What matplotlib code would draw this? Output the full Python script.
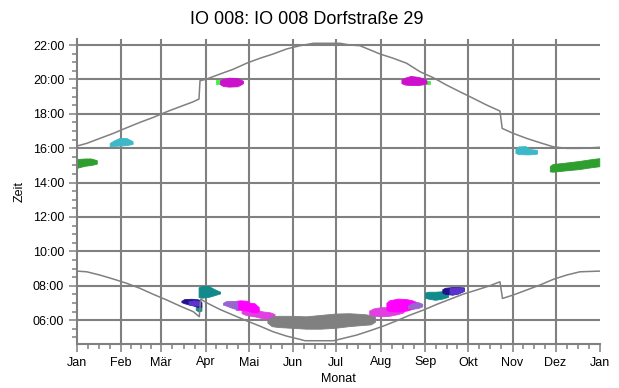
import matplotlib
matplotlib.use("Agg")
import matplotlib.pyplot as plt
from matplotlib.ticker import FixedLocator, MultipleLocator, FuncFormatter

plt.rcParams['font.family'] = ['Liberation Sans', 'DejaVu Sans']

# Calendar axis: day of year at each month start
month_days = [0, 31, 59, 90, 120, 151, 181, 212, 243, 273, 304, 334, 365]
month_labels = ["Jan", "Feb", "Mär", "Apr", "Mai", "Jun", "Jul", "Aug",
                "Sep", "Okt", "Nov", "Dez", "Jan"]
hour_ticks = [6, 8, 10, 12, 14, 16, 18, 20, 22]

# Sunrise / sunset (local clock time in hours, with daylight saving jumps)
sunrise_day = [0, 7, 16.2, 25.5, 34.9, 44.1, 53.4, 62.8, 72, 81.3, 85.5, 86.5,
               90.6, 99.9, 109.2, 118.5, 127.8, 137.1, 146.4, 155.7, 159.2,
               169.7, 179, 186, 195.3, 204.5, 213.8, 223.1, 232.4, 241.7, 251,
               260.3, 269.6, 278.9, 288.2, 295.2, 297, 304.5, 313.8, 323.1,
               332.4, 341.7, 351, 365]
sunrise_time = [8.85, 8.81, 8.62, 8.39, 8.14, 7.85, 7.5, 7.17, 6.82, 6.49, 6.2, 7.22,
                7.01, 6.62, 6.29, 5.96, 5.65, 5.32, 5.07, 4.88, 4.8,
                4.8, 4.8, 4.94, 5.13, 5.38, 5.65, 5.96, 6.29, 6.58, 6.91,
                7.21, 7.51, 7.75, 8.0, 8.23, 7.26, 7.46, 7.75, 8.04,
                8.37, 8.62, 8.81, 8.85]

sunset_day = [0, 7, 16.2, 25.5, 34.9, 44.1, 53.4, 62.8, 72, 81.3, 85.3, 86,
              90.6, 99.9, 109.2, 118.5, 127.8, 137.1, 146.4, 155.7, 165, 183.6,
              190.6, 197.6, 202.2, 211.5, 220.8, 230.1, 239.4, 248.7, 258,
              267.3, 276.6, 285.9, 295.2, 296.8, 304.5, 313.8, 323.1, 332.4,
              341.7, 351, 365]
sunset_time = [16.12, 16.28, 16.57, 16.86, 17.19, 17.5, 17.79, 18.12, 18.41, 18.7, 18.86, 19.92,
               20.02, 20.31, 20.59, 20.94, 21.23, 21.48, 21.77, 21.96, 22.1, 22.1,
               22.0, 21.96, 21.8, 21.48, 21.23, 20.94, 20.45, 20.1, 19.67,
               19.28, 18.9, 18.51, 18.16, 17.15, 16.86, 16.57, 16.32, 16.08,
               15.99, 15.99, 16.05]

# Shadow periods: (days, shadow begin, shadow end, colour), drawn in order
shadow_periods = [
    # evening / afternoon
    ([0, 2, 6, 10, 14], [14.85, 14.9, 14.98, 15.02, 15.1], [15.35, 15.38, 15.4, 15.4, 15.3], "#2e9e2e"),
    ([23, 26, 30, 35, 39], [16.12, 16.13, 16.15, 16.18, 16.25], [16.3, 16.45, 16.6, 16.58, 16.4], "#3cb8c8"),
    ([97, 101], [19.72, 19.72], [19.96, 19.96], "#44ee44"),
    ([100, 102, 106, 112, 114, 116], [19.72, 19.62, 19.58, 19.6, 19.68, 19.78], [19.95, 20.02, 20.1, 20.08, 20.0, 19.92], "#cc10cc"),
    ([242, 246.4], [19.73, 19.73], [19.92, 19.92], "#44ee44"),
    ([226.5, 229, 233, 238, 242, 244], [19.78, 19.7, 19.67, 19.67, 19.72, 19.78], [20.0, 20.1, 20.2, 20.15, 20.05, 19.95], "#cc10cc"),
    ([306, 308, 313, 316, 321], [15.72, 15.66, 15.64, 15.64, 15.68], [15.95, 16.1, 16.12, 15.95, 15.9], "#3cb8c8"),
    ([330, 332, 340, 350, 358, 364.5], [14.65, 14.63, 14.7, 14.78, 14.88, 14.95], [14.95, 15.08, 15.15, 15.25, 15.35, 15.42], "#2e9e2e"),
    # morning
    ([83, 85, 87], [6.6, 6.5, 6.55], [6.8, 6.85, 6.8], "#108a8a"),
    ([73, 75, 80, 85, 87], [7.05, 6.98, 6.88, 6.76, 6.78], [7.12, 7.22, 7.24, 7.2, 7.05], "#22118c"),
    ([78, 82, 86], [6.9, 6.85, 6.85], [7.1, 7.15, 7.1], "#5a34cc"),
    ([85, 87, 92, 96, 100], [7.35, 7.3, 7.35, 7.45, 7.55], [7.9, 7.98, 7.98, 7.8, 7.65], "#108a8a"),
    ([115, 118, 125, 130, 135, 138], [6.4, 6.3, 6.2, 6.1, 6.08, 6.15], [6.55, 6.62, 6.6, 6.5, 6.45, 6.35], "#e040e0"),
    ([111, 114, 119, 121, 124, 127], [6.6, 6.6, 6.55, 6.5, 6.45, 6.5], [7.12, 7.15, 7.12, 7.0, 6.98, 6.75], "#ff00ff"),
    ([102, 104, 108, 112], [6.9, 6.85, 6.72, 6.62], [7.0, 7.1, 7.12, 7.1], "#9966d0"),
    ([133, 136, 140, 150, 160, 170, 180, 190, 200, 205, 208],
     [5.85, 5.65, 5.6, 5.55, 5.5, 5.5, 5.55, 5.65, 5.72, 5.75, 5.9],
     [6.0, 6.2, 6.25, 6.25, 6.22, 6.3, 6.38, 6.4, 6.35, 6.3, 6.2], "#808080"),
    ([204, 207, 212, 218, 224, 228], [6.35, 6.25, 6.22, 6.25, 6.35, 6.45], [6.55, 6.68, 6.75, 6.75, 6.7, 6.6], "#e040e0"),
    ([216, 218, 224, 230, 234, 237], [6.6, 6.52, 6.5, 6.55, 6.65, 6.75], [7.0, 7.15, 7.25, 7.22, 7.15, 7.05], "#ff00ff"),
    ([231, 234, 238, 241], [6.7, 6.66, 6.7, 6.8], [6.85, 6.98, 7.05, 6.95], "#9966d0"),
    ([243, 245, 250, 255, 259], [7.3, 7.25, 7.18, 7.25, 7.35], [7.6, 7.65, 7.65, 7.68, 7.72], "#108a8a"),
    ([255, 257, 262, 266, 270], [7.6, 7.52, 7.48, 7.55, 7.7], [7.8, 7.88, 7.92, 7.92, 7.9], "#22118c"),
    ([260, 262, 266, 270], [7.55, 7.5, 7.55, 7.7], [7.85, 7.9, 7.9, 7.88], "#5a34cc"),
]

GRAY = "#808080"

fig = plt.figure(figsize=(6.19, 3.88), dpi=100)
ax = fig.add_axes([76.7 / 619, 1 - 344 / 388, (600 - 76.7) / 619, (344 - 39) / 388])
ax.set_xlim(month_days[0], month_days[-1])
ax.set_ylim(4.61, 22.35)

# grid
for d in month_days[1:-1]:
    ax.axvline(d, color=GRAY, lw=1.5, zorder=1)
for h in hour_ticks:
    ax.axhline(h, color=GRAY, lw=1.5, zorder=1)

# shadow periods
for days, t0, t1, col in shadow_periods:
    ax.fill_between(days, t0, t1, color=col, lw=0.6, edgecolor=col, zorder=2)

# sunrise / sunset
ax.plot(sunrise_day, sunrise_time, color=GRAY, lw=1.1, zorder=3)
ax.plot(sunset_day, sunset_time, color=GRAY, lw=1.1, zorder=3)

# axes styling
for s in ("top", "right"):
    ax.spines[s].set_visible(False)
for s in ("left", "bottom"):
    ax.spines[s].set_color(GRAY)
    ax.spines[s].set_linewidth(1.5)

ax.xaxis.set_major_locator(FixedLocator(month_days))
ax.set_xticklabels(month_labels)
minor_x = []
for a, b in zip(month_days[:-1], month_days[1:]):
    minor_x += [a + k * (b - a) / 4 for k in (1, 2, 3)]
ax.xaxis.set_minor_locator(FixedLocator(minor_x))

ax.yaxis.set_major_locator(FixedLocator(hour_ticks))
ax.yaxis.set_major_formatter(FuncFormatter(lambda v, p: f"{int(v):02d}:00"))
ax.yaxis.set_minor_locator(MultipleLocator(0.5))

ax.tick_params(which="major", length=6, width=1.1, color=GRAY, labelsize=9, pad=3)
ax.tick_params(which="minor", length=3.6, width=1.1, color=GRAY)

ax.set_xlabel("Monat", fontsize=9, labelpad=3.5)
ax.set_ylabel("Zeit", fontsize=9, labelpad=5.5)

fig.text(0.496, 1 - 19 / 388, "IO 008: IO 008 Dorfstraße 29", fontsize=13,
         ha="center", va="center")

fig.savefig("out.png", dpi=100)
